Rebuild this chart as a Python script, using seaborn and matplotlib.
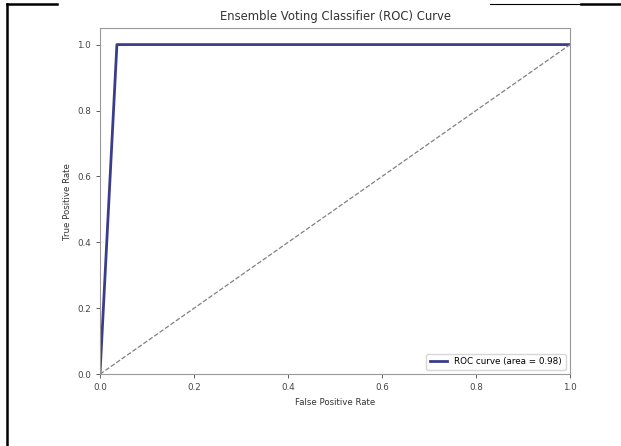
import pandas as pd
import seaborn as sns
import matplotlib.pyplot as plt
from matplotlib.lines import Line2D

# ROC points
fpr = [0.0, 0.036, 1.0]
tpr = [0.0, 1.0, 1.0]
roc_auc = 0.98
chance = [0.0, 1.0]

df = pd.DataFrame({"fpr": fpr, "tpr": tpr})
diag = pd.DataFrame({"x": chance, "y": chance})

fig = plt.figure(figsize=(6.21, 4.46), dpi=100)
ax = fig.add_axes([0.161, 0.161, 0.757, 0.776])

sns.lineplot(data=df, x="fpr", y="tpr", ax=ax, color="#3c3c8c", lw=2,
             estimator=None, label="ROC curve (area = %0.2f)" % roc_auc)
sns.lineplot(data=diag, x="x", y="y", ax=ax, color="gray", lw=0.9,
             linestyle="--", estimator=None)

ax.set_xlim(0.0, 1.0)
ax.set_ylim(0.0, 1.05)
ax.set_xticks([0.0, 0.2, 0.4, 0.6, 0.8, 1.0])
ax.set_yticks([0.0, 0.2, 0.4, 0.6, 0.8, 1.0])
ax.tick_params(labelsize=6.3, colors="#444444", length=3, width=0.6)
ax.set_xlabel("False Positive Rate", fontsize=6.2, color="#333333")
ax.set_ylabel("True Positive Rate", fontsize=6.2, color="#333333")
ax.set_title("Ensemble Voting Classifier (ROC) Curve", fontsize=8.4, color="#333333")
for s in ax.spines.values():
    s.set_color("#999999")
    s.set_linewidth(0.8)
ax.legend(loc="lower right", fontsize=6.3, frameon=True, edgecolor="#cccccc")

# page border lines around the chart (from the document screenshot)
H, W = 446.0, 621.0
fig.add_artist(Line2D([7 / W, 7 / W], [0, 1 - 4 / H], color="black", lw=1.8))
fig.add_artist(Line2D([7 / W, 57 / W], [1 - 4 / H, 1 - 4 / H], color="black", lw=1.8))
fig.add_artist(Line2D([490 / W, 581 / W], [1 - 4 / H, 1 - 4 / H], color="black", lw=0.8))
fig.add_artist(Line2D([581 / W, 1], [1 - 4 / H, 1 - 4 / H], color="black", lw=1.8))

fig.savefig("out.png", dpi=100)
